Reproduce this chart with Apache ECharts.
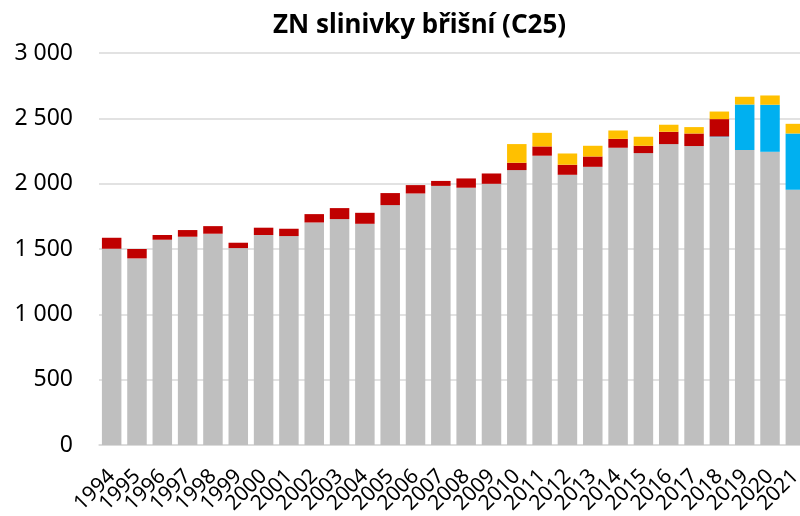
<!DOCTYPE html>
<html>
<head>
<meta charset="utf-8">
<script src="https://cdn.jsdelivr.net/npm/echarts@6/dist/echarts.min.js"></script>
<style>
  html, body { margin: 0; padding: 0; background: #fff; }
  #chart { width: 800px; height: 516px; }
</style>
</head>
<body>
<div id="chart"></div>
<script>
var years = ['1994', '1995', '1996', '1997', '1998', '1999', '2000', '2001', '2002', '2003',
    '2004', '2005', '2006', '2007', '2008', '2009', '2010', '2011', '2012', '2013',
    '2014', '2015', '2016', '2017', '2018', '2019', '2020', '2021'];

// gray base
var baseValues = [1502, 1428, 1571, 1594, 1617, 1507, 1607, 1599, 1703, 1729,
    1693, 1836, 1925, 1983, 1969, 1999, 2104, 2214, 2068, 2129,
    2275, 2234, 2303, 2288, 2356, 2257, 2244, 1953];
// blue
var blueValues = [0, 0, 0, 0, 0, 0, 0, 0, 0, 0,
    0, 0, 0, 0, 0, 0, 0, 0, 0, 0,
    0, 0, 0, 0, 5, 349, 360, 431];
// red
var redValues = [84, 72, 36, 51, 58, 41, 56, 56, 64, 84,
    84, 92, 64, 38, 71, 79, 56, 71, 77, 79,
    68, 56, 94, 96, 133, 0, 0, 0];
// yellow
var yellowValues = [0, 0, 0, 0, 0, 0, 0, 0, 0, 0,
    0, 0, 0, 0, 0, 0, 143, 104, 86, 82,
    64, 69, 54, 49, 58, 59, 71, 74];

var chart = echarts.init(document.getElementById('chart'));

function stackSerie(name, data, color){
    return {
        name: name,
        type: 'bar',
        stack: 'total',
        barCategoryGap: '23%',
        itemStyle: { color: color },
        data: data
    };
}

chart.setOption({
    animation: false,
    textStyle: { fontFamily: 'Noto Sans' },
    title: {
        text: 'ZN slinivky břišní (C25)',
        left: 268,
        top: 8,
        textStyle: { fontSize: 26, fontWeight: 'bold', color: '#000', fontFamily: 'Noto Sans' }
    },
    grid: { left: 99, right: -8, top: 53, bottom: 71, outerBoundsMode: 'none' },
    xAxis: {
        type: 'category',
        data: years,
        axisLine: { lineStyle: { color: '#d9d9d9', width: 1.5 } },
        axisTick: { show: false },
        axisLabel: { interval: 0, rotate: 45, fontSize: 21, color: '#000', margin: 28 }
    },
    yAxis: {
        type: 'value',
        min: 0,
        max: 3000,
        interval: 500,
        axisLine: { show: false },
        axisTick: { show: false },
        splitLine: { lineStyle: { color: '#d9d9d9', width: 1.5 } },
        axisLabel: {
            fontSize: 23,
            color: '#000',
            margin: 26,
            formatter: function(v){ return String(v).replace(/\B(?=(\d{3})+(?!\d))/g, ' '); }
        }
    },
    series: [
        stackSerie('základ', baseValues, '#bfbfbf'),
        stackSerie('modrá', blueValues, '#00b0f0'),
        stackSerie('červená', redValues, '#c00000'),
        stackSerie('žlutá', yellowValues, '#ffc000')
    ]
});
</script>
</body>
</html>
